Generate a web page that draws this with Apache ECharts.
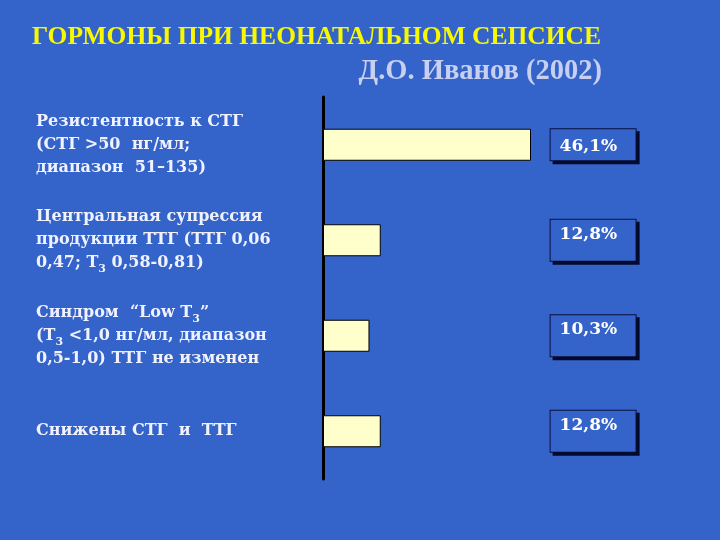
<!DOCTYPE html>
<html>
<head>
  <meta http-equiv="Content-Type" content="text/html; charset=utf-8" />
  <title>Гормоны при неонатальном сепсисе</title>
  <script src="https://cdn.jsdelivr.net/npm/echarts@6/dist/echarts.min.js"></script>
  <style>
    html, body { margin: 0; padding: 0; background: #3463c9; }
    #chart-main { width: 720px; height: 540px; }
  </style>
</head>
<body>
<div id="chart-main"></div>

<script type="text/javascript">
var titleText = 'ГОРМОНЫ ПРИ НЕОНАТАЛЬНОМ СЕПСИСЕ';
var subText = 'Д.О. Иванов (2002)';

var categories = [
  'Резистентность к СТГ\n(СТГ >50  нг/мл;\nдиапазон  51–135)',
  'Центральная супрессия\nпродукции ТТГ (ТТГ 0,06\n0,47; Т₃ 0,58-0,81)',
  'Синдром  “Low Т₃”\n(Т₃ <1,0 нг/мл, диапазон\n0,5-1,0) ТТГ не изменен',
  'Снижены СТГ  и  ТТГ'
];
var values = [46.1, 12.8, 10.3, 12.8];

var font = 'Liberation Serif';
var font2 = 'DejaVu Serif';
var myChart = echarts.init(document.getElementById('chart-main'));

function pct(v) {
  return v.toFixed(1).replace('.', ',') + '%';
}

var boxStyle = {
  color: '#ffffff', fontFamily: font2, fontWeight: 'bold', fontSize: 17,
  width: 62, lineHeight: 18,
  backgroundColor: '#3463c9', borderColor: '#0a1040', borderWidth: 1,
  shadowColor: '#020a30', shadowOffsetX: 3, shadowOffsetY: 3, shadowBlur: 0
};

var option = {
  backgroundColor: '#3463c9',
  title: [
    { text: titleText, left: 27, top: 19,
      textStyle: { color: '#f8f800', fontFamily: font, fontWeight: 'bold', fontSize: 25.5 } },
    { text: subText, right: 113, top: 52,
      textStyle: { color: '#c8d0f2', fontFamily: font, fontWeight: 'bold', fontSize: 28.5 } }
  ],
  grid: { left: 323, top: 97, height: 382, width: 225.6 },
  xAxis: { type: 'value', min: 0, max: 50, show: false },
  yAxis: [{
    type: 'category', inverse: true, data: categories,
    axisLine: { show: true, lineStyle: { color: '#000000', width: 3 } },
    axisTick: { show: false },
    axisLabel: {
      align: 'left', margin: 287, color: '#f0f2ff',
      fontFamily: font2, fontWeight: 'bold', fontSize: 16, lineHeight: 23,
      formatter: function (v) { return v.replace(/₃/g, '{s|3}'); },
      rich: {
        s: { fontFamily: font2, fontWeight: 'bold', fontSize: 11, color: '#f0f2ff',
             lineHeight: 23, verticalAlign: 'bottom', padding: [8, 0, 0, 0] }
      }
    }
  }, {
    type: 'category', inverse: true, data: categories, position: 'right',
    axisLine: { show: false }, axisTick: { show: false },
    axisLabel: {
      align: 'left', margin: 2,
      formatter: function (v, i) {
        return (i === 0 ? '{a|' : '{b|') + pct(values[i]) + '}';
      },
      rich: {
        a: Object.assign({}, boxStyle, { padding: [9, 14, 5, 9] }),
        b: Object.assign({}, boxStyle, { padding: [6, 14, 18, 9] })
      }
    }
  }],
  series: [{
    type: 'bar', yAxisIndex: 0, data: values, barWidth: 32,
    itemStyle: { color: '#ffffcc', borderColor: '#000000', borderWidth: 1 },
    silent: true
  }]
};

myChart.setOption(option);
</script>
</body>
</html>
